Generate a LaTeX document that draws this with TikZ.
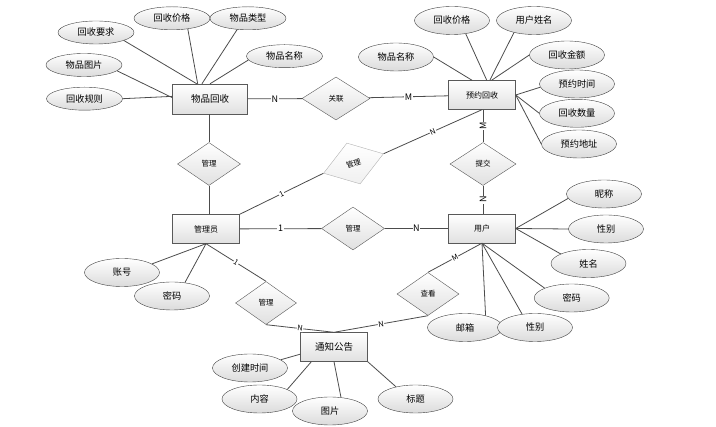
\documentclass[tikz,border=0pt]{standalone}
\usepackage{fontspec}
\setmainfont{Noto Sans CJK SC}
\usetikzlibrary{shapes.geometric}

\begin{document}
\begin{tikzpicture}[x=1pt,y=-1pt,
		entity/.style={rectangle,draw=black!65,top color=white,bottom color=black!12,minimum width=67pt,minimum height=29pt,inner sep=1pt,font=\fontsize{8}{8}\selectfont},
		attr/.style={ellipse,draw=black!75,top color=white,bottom color=black!14,minimum width=75pt,minimum height=28pt,inner sep=1pt,font=\fontsize{9.2}{9.2}\selectfont},
		attrs/.style={attr,minimum width=76pt,minimum height=23pt},
		rel/.style={diamond,draw=black!65,top color=white,bottom color=black!12,minimum width=63pt,minimum height=43pt,inner sep=0pt,font=\fontsize{7.5}{7.5}\selectfont},
		link/.style={draw=black!70,line width=0.8pt},
		card/.style={fill=white,inner sep=0.6pt,font=\fontsize{9}{9}\selectfont},
		cards/.style={card,sloped,font=\fontsize{7.5}{7.5}\selectfont}]
		\useasboundingbox (0,0) rectangle (716,427);
		
		\node[entity,minimum width=75pt,minimum height=30pt,font=\fontsize{9.5}{9.5}\selectfont] (wphs) at (210,99) {物品回收};
		\node[entity] (yyhs) at (482,95) {预约回收};
		\node[entity] (gly) at (206,229) {管理员};
		\node[entity] (yh) at (482,228.5) {用户};
		\node[entity,font=\fontsize{9.5}{9.5}\selectfont] (tzgg) at (334,347) {通知公告};
		
		\node[rel,minimum width=68pt] (gx) at (336,98.5) {关联};
		\node[rel] (gl1) at (209,164) {管理};
		\node[rel,rotate=18,draw=black!30,bottom color=black!6] (gl2) at (353.5,163.5) {管理};
		\node[rel] (gl3) at (353,228.5) {管理};
		\node[rel,minimum width=66pt] (tj) at (483,164) {提交};
		\node[rel,minimum width=61pt] (gl4) at (266,303) {管理};
		\node[rel,minimum width=62pt] (ck) at (428,294) {查看};
		
		\node[attrs] (hsyq) at (96,32.5) {回收要求};
		\node[attrs] (hsjg) at (172,18.3) {回收价格};
		\node[attrs] (wplx) at (248,18.3) {物品类型};
		\node[attrs] (wpmc) at (284.5,56.2) {物品名称};
		\node[attrs] (wptp) at (84,65) {物品图片};
		\node[attrs] (hsgz) at (84.5,98.7) {回收规则};
		
		\node[attr] (yjg) at (452,20.5) {回收价格};
		\node[attr] (yxm) at (534,20.5) {用户姓名};
		\node[attr] (ymc) at (396,57) {物品名称};
		\node[attr] (hsje) at (567,55) {回收金额};
		\node[attr] (yysj) at (577,84) {预约时间};
		\node[attr] (hssl) at (577,113.3) {回收数量};
		\node[attr] (yydz) at (579,144) {预约地址};
		
		\node[attr] (nc) at (604,194) {昵称};
		\node[attr] (xb) at (606,229) {性别};
		\node[attr] (xm) at (588.5,263.5) {姓名};
		\node[attr] (yhmm) at (571.7,298) {密码};
		\node[attr] (yx) at (465,327.5) {邮箱};
		\node[attr] (xb2) at (535,327.5) {性别};
		
		\node[attr] (zh) at (122,272.5) {账号};
		\node[attr] (mm) at (172,296) {密码};
		
		\node[attr] (cjsj) at (250,368) {创建时间};
		\node[attr] (nr) at (259.5,399) {内容};
		\node[attr] (tp) at (330,411) {图片};
		\node[attr] (bt) at (415.5,399) {标题};
		
		\draw[link] (hsyq.344) -- (wphs.131);
		\draw[link] (hsjg.326) -- (wphs.129);
		\draw[link] (wplx.226) -- (wphs.118);
		\draw[link] (wpmc.186) -- (wphs.north);
		\draw[link] (wptp.350) -- (wphs.178);
		\draw[link] (hsgz.east) -- (wphs.176);
		
		\draw[link] (yjg.316) -- (yyhs.72);
		\draw[link] (yxm.211) -- (yyhs.62);
		\draw[link] (ymc.east) -- (yyhs.124);
		\draw[link] (hsje.west) -- (yyhs.57);
		\draw[link] (yysj.185) -- (yyhs.east);
		\draw[link] (hssl.west) -- (yyhs.east);
		\draw[link] (yydz.west) -- (yyhs.east);
		
		\draw[link] (nc.187) -- (yh.east);
		\draw[link] (xb.west) -- (yh.east);
		\draw[link] (xm.161) -- (yh.east);
		\draw[link] (yhmm.160) -- (yh.south);
		\draw[link] (yx.30) -- (yh.south);
		\draw[link] (xb2.134) -- (yh.south);
		
		\draw[link] (zh.16) -- (gly.south);
		\draw[link] (mm.46) -- (gly.south);
		
		\draw[link] (cjsj.15) -- (tzgg.192);
		\draw[link] (nr.19) -- (tzgg.213);
		\draw[link] (tp.51) -- (tzgg.south);
		\draw[link] (bt.148) -- (tzgg.south east);
		
		\draw[link] (wphs) -- node[card] {N} (gx);
		\draw[link] (gx) -- node[card] {M} (yyhs);
		\draw[link] (wphs.south -| gl1) -- (gl1);
		\draw[link] (gl1) -- (gl1 |- gly.north);
		\draw[link] (gly.north east) -- node[cards] {1} (gl2.west);
		\draw[link] (gl2.east) -- node[cards] {N} (yyhs.south);
		\draw[link] (yyhs.south -| tj) -- node[card,rotate=90] {M} (tj);
		\draw[link] (tj) -- node[card,rotate=90] {N} (tj |- yh.north);
		\draw[link] (gly) -- node[card] {1} (gl3);
		\draw[link] (gl3) -- node[card] {N} (yh);
		\draw[link] (gly.south) -- node[cards] {1} (gl4.north);
		\draw[link] (gl4.south) -- node[cards] {N} (tzgg.north);
		\draw[link] (tzgg.north) -- node[cards] {N} (ck.south);
		\draw[link] (ck.north) -- node[cards] {M} (yh.south);
		
	\end{tikzpicture}
\end{document}
